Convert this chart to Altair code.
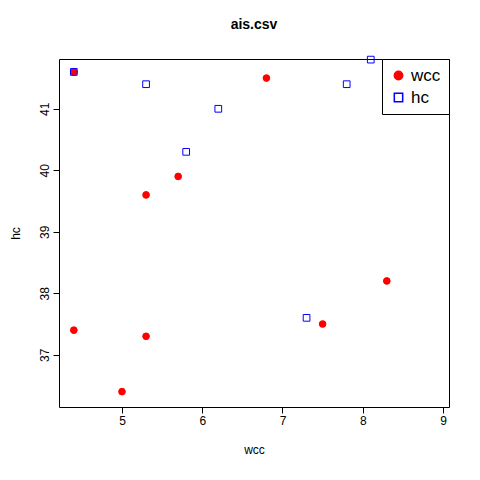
import altair as alt
import pandas as pd

wcc_x = [4.4, 4.4, 5.0, 5.3, 5.3, 5.7, 6.8, 7.5, 8.3]
wcc_y = [41.6, 37.4, 36.4, 39.6, 37.3, 39.9, 41.5, 37.5, 38.2]
hc_x = [4.4, 5.3, 5.8, 6.2, 7.3, 7.8, 8.1]
hc_y = [41.6, 41.4, 40.3, 41.0, 37.6, 41.4, 41.8]

df = pd.concat([
    pd.DataFrame({'wcc': wcc_x, 'hc': wcc_y, 'series': 'wcc'}),
    pd.DataFrame({'wcc': hc_x, 'hc': hc_y, 'series': 'hc'}),
])

domain = ['wcc', 'hc']
leg = alt.Legend(title=None, orient='top-right', offset=0, strokeColor='black',
                 fillColor='white', labelFontSize=17, symbolSize=70, padding=8,
                 rowPadding=4, cornerRadius=0)

chart = alt.Chart(df).mark_point(opacity=1, strokeWidth=1, size=45).encode(
    alt.X('wcc:Q', scale=alt.Scale(domain=[4.215, 9.075], nice=False, zero=False),
          axis=alt.Axis(values=[5, 6, 7, 8, 9], grid=False, titlePadding=18)),
    alt.Y('hc:Q', scale=alt.Scale(domain=[36.15, 41.81], nice=False, zero=False),
          axis=alt.Axis(values=[37, 38, 39, 40, 41], grid=False, labelAngle=-90,
                        labelAlign='center', labelBaseline='bottom', titlePadding=16)),
    alt.Shape('series:N', scale=alt.Scale(domain=domain, range=['circle', 'square']), legend=leg),
    alt.Fill('series:N', scale=alt.Scale(domain=domain, range=['red', 'rgba(0,0,0,0)']), legend=leg),
    alt.Stroke('series:N', scale=alt.Scale(domain=domain, range=['red', 'blue']), legend=leg),
).properties(
    width=390, height=348,
    title=alt.TitleParams('ais.csv', fontSize=14, fontWeight='bold', offset=22),
    autosize=alt.AutoSizeParams(type='none'),
    padding={'left': 51, 'top': 51, 'right': 23, 'bottom': 65},
).configure_view(stroke='black', strokeWidth=1).configure_axis(
    domain=False, labelFontSize=12, titleFontSize=12, titleFontWeight='normal',
    labelColor='black', titleColor='black', tickColor='black', labelFont='Liberation Sans',
    titleFont='Liberation Sans', tickSize=6
).configure_title(font='Liberation Sans')

chart.save("out.html", embed_options={"renderer": "svg", "actions": False})
